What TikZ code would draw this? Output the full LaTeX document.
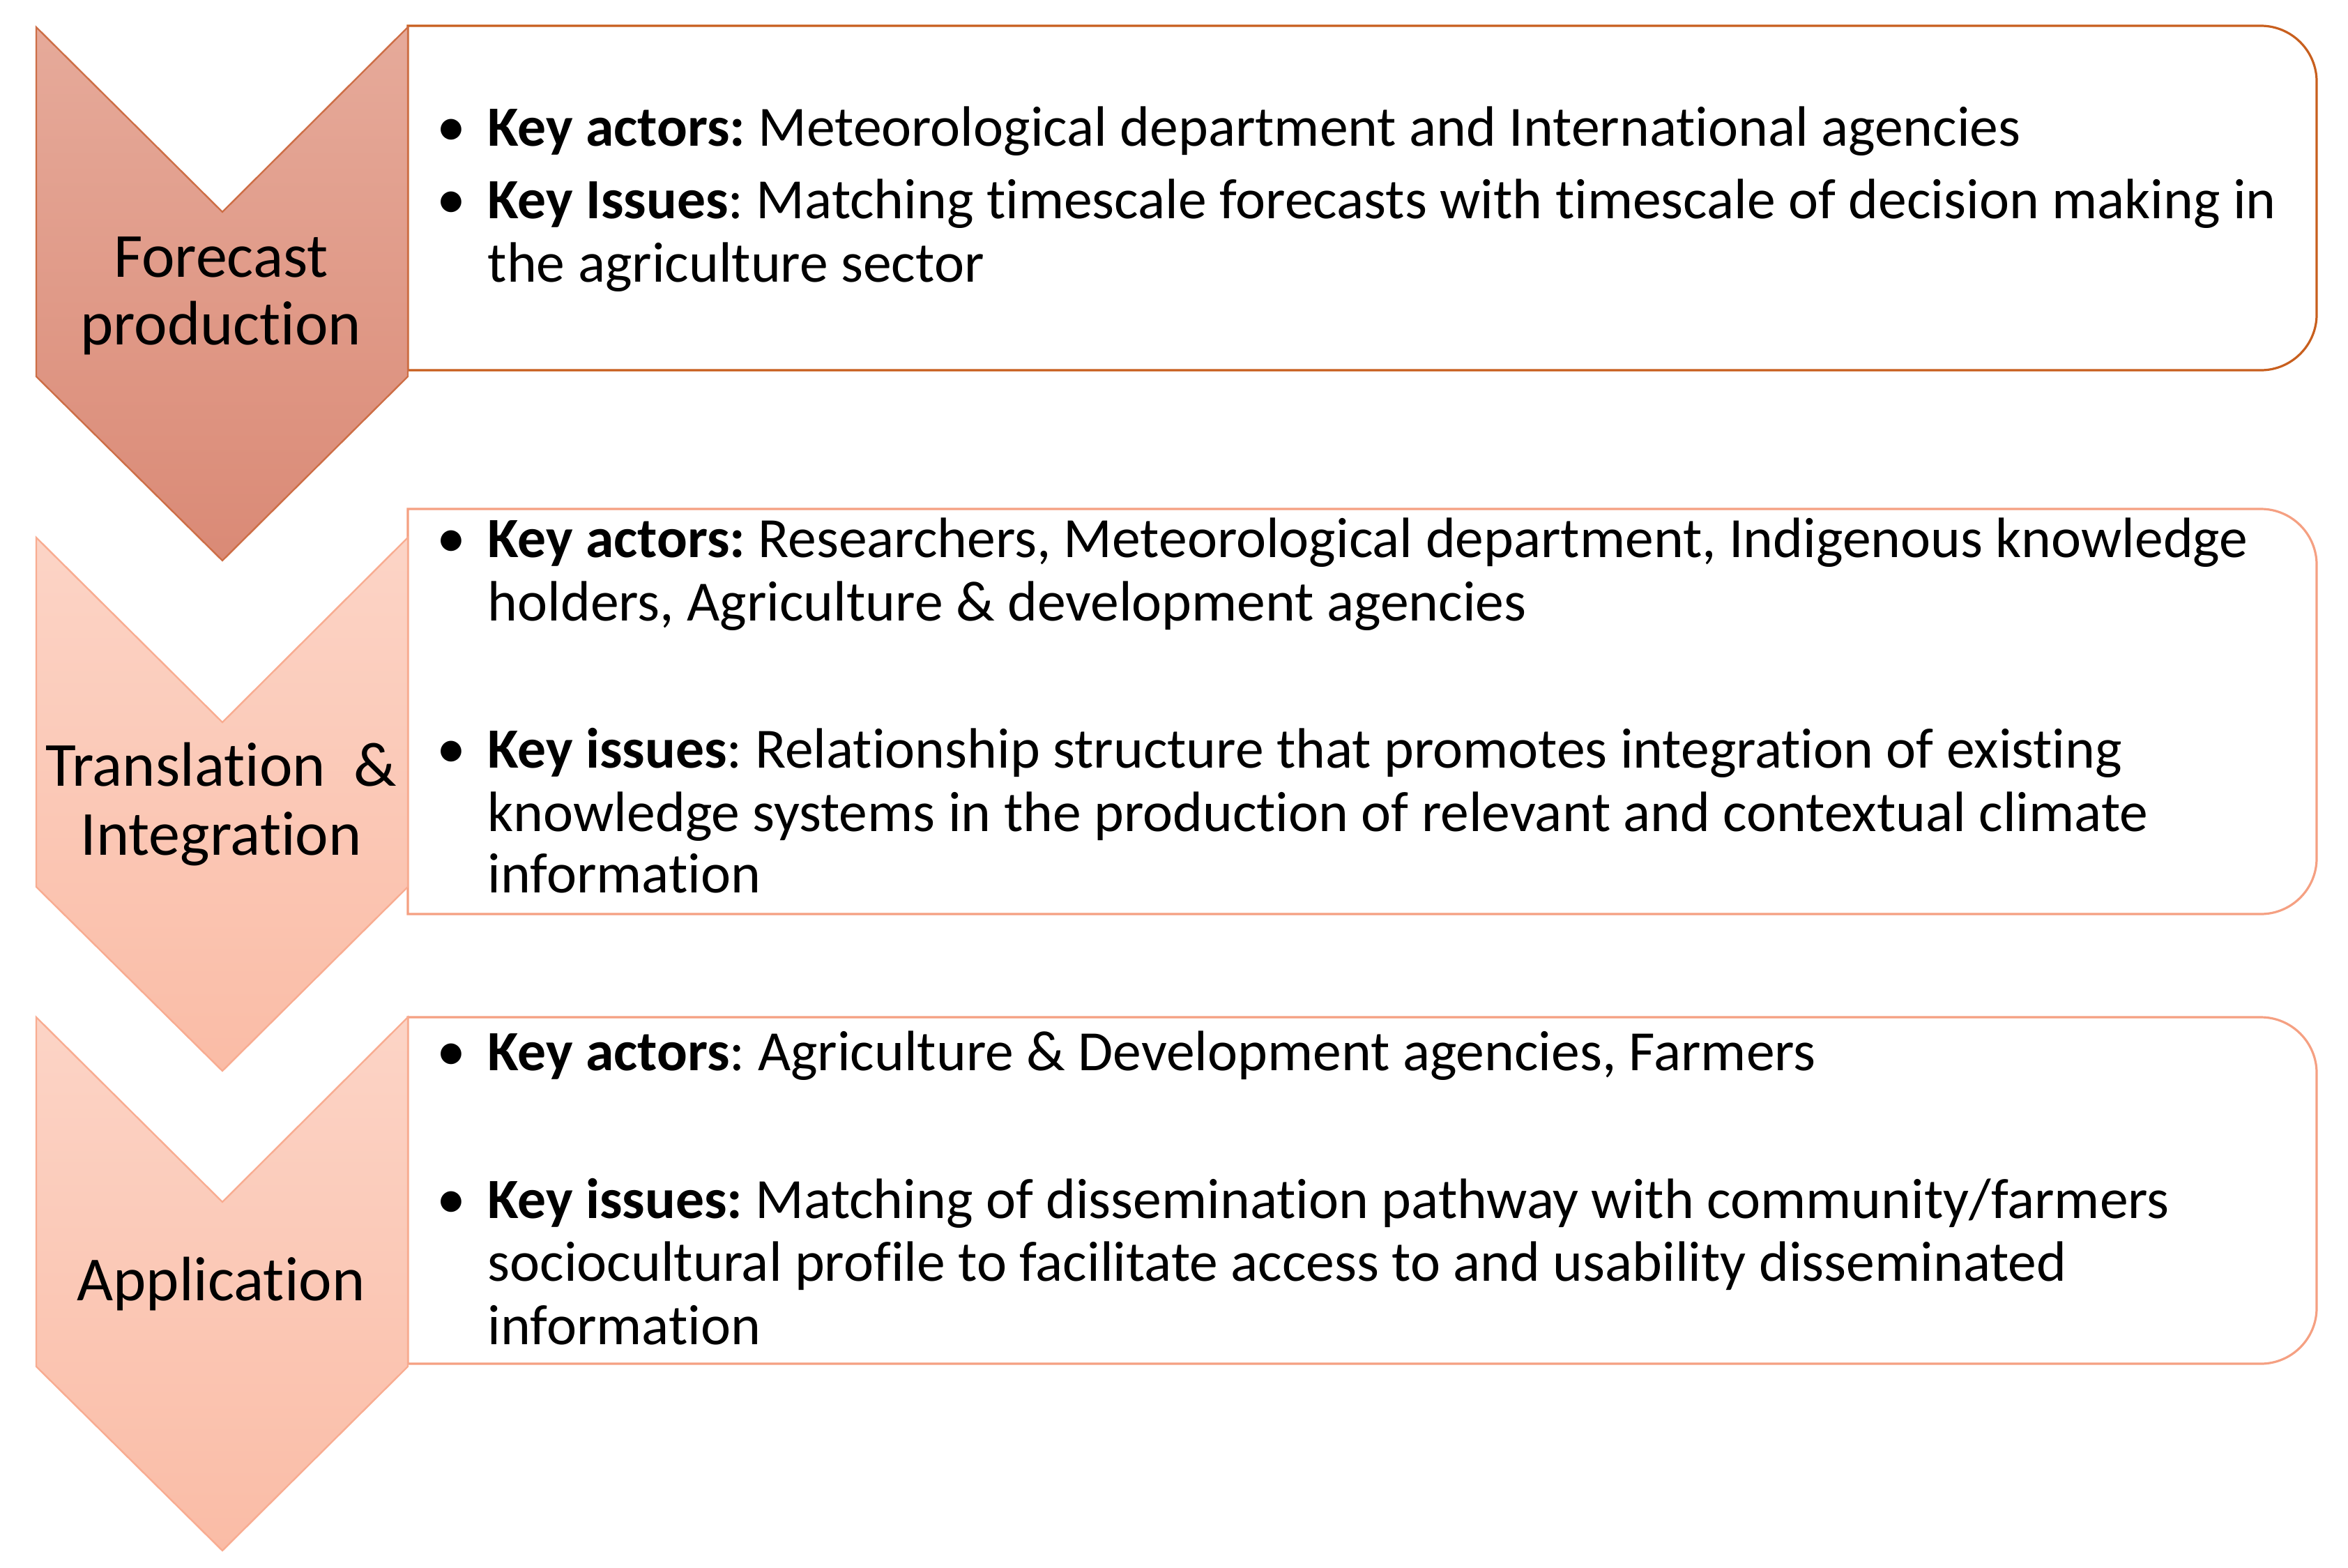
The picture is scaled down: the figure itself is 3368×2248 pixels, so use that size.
\documentclass[tikz,border=0pt]{standalone}
\usepackage{fontspec}
\setmainfont{Carlito}[Ligatures=NoCommon]
\frenchspacing
\definecolor{chAtop}{RGB}{230,170,154}
\definecolor{chAbot}{RGB}{218,138,118}
\definecolor{chAline}{RGB}{205,110,70}
\definecolor{boxAline}{RGB}{200,95,30}
\definecolor{chBtop}{RGB}{252,212,198}
\definecolor{chBbot}{RGB}{250,188,166}
\definecolor{chBline}{RGB}{248,172,145}
\definecolor{boxBline}{RGB}{245,160,130}
\tikzset{
  body/.style={anchor=base west, inner sep=0pt, font=\fontsize{20.4}{24}\selectfont},
  bul/.style={anchor=base west, inner sep=0pt, font=\fontsize{21}{24}\selectfont},
  chlabel/.style={anchor=base, inner sep=0pt, font=\fontsize{22.5}{27}\selectfont},
}
\begin{document}
\begin{tikzpicture}[x=0.25pt,y=-0.25pt]
\useasboundingbox (0,0) rectangle (3368,2248);
% ---------- boxes ----------
\draw[boxAline, line width=0.8pt, fill=white] (585,37) -- (3243,37) .. controls (3287,37) and (3323,73) .. (3323,117) -- (3323,451) .. controls (3323,495) and (3287,531) .. (3243,531) -- (585,531) -- cycle;
\draw[boxBline, line width=0.8pt, fill=white] (585,730) -- (3243,730) .. controls (3287,730) and (3323,766) .. (3323,810) -- (3323,1231) .. controls (3323,1275) and (3287,1311) .. (3243,1311) -- (585,1311) -- cycle;
\draw[boxBline, line width=0.8pt, fill=white] (585,1459) -- (3243,1459) .. controls (3287,1459) and (3323,1495) .. (3323,1539) -- (3323,1876) .. controls (3323,1920) and (3287,1956) .. (3243,1956) -- (585,1956) -- cycle;
% ---------- chevrons ----------
\draw[chAline, line width=0.6pt, top color=chAtop, bottom color=chAbot]
  (52,39) -- (319,304) -- (585,39) -- (585,540) -- (319,804) -- (52,540) -- cycle;
\draw[chBline, line width=0.6pt, top color=chBtop, bottom color=chBbot]
  (52,771) -- (319,1036) -- (585,771) -- (585,1272) -- (319,1536) -- (52,1272) -- cycle;
\draw[chBline, line width=0.6pt, top color=chBtop, bottom color=chBbot]
  (52,1459) -- (319,1724) -- (585,1459) -- (585,1960) -- (319,2224) -- (52,1960) -- cycle;
% ---------- chevron labels ----------
\node[chlabel] (fa) at (317,397) {Forecast};
\node[chlabel] (fb) at (317,494) {production};
\node[chlabel] (ta) at (317,1127) {Translation\ \ \&};
\node[chlabel] (tb) at (317,1226) {Integration};
\node[chlabel] (ap) at (317,1865) {Application};
% ---------- box 1 ----------
\node[bul] (d11) at (626,209) {•};
\node[body] (t11) at (699,209) {\textbf{Key actors:} Meteorological department and International agencies};
\node[bul] (d12) at (626,313) {•};
\node[body] (t12) at (699,313) {\textbf{Key Issues}: Matching timescale forecasts with timescale of decision making in};
\node[body] (t13) at (699,404) {the agriculture sector};
% ---------- box 2 ----------
\node[bul] (d21) at (626,799) {•};
\node[body] (t21) at (699,799) {\textbf{Key actors:} Researchers, Meteorological department, Indigenous knowledge};
\node[body] (t22) at (699,890) {holders, Agriculture \& development agencies};
\node[bul] (d22) at (626,1101) {•};
\node[body] (t23) at (699,1101) {\textbf{Key issues}: Relationship structure that promotes integration of existing};
\node[body] (t24) at (699,1192) {knowledge systems in the production of relevant and contextual climate};
\node[body] (t25) at (699,1280) {information};
% ---------- box 3 ----------
\node[bul] (d31) at (626,1535) {•};
\node[body] (t31) at (699,1535) {\textbf{Key actors}: Agriculture \& Development agencies, Farmers};
\node[bul] (d32) at (626,1747) {•};
\node[body] (t32) at (699,1747) {\textbf{Key issues:} Matching of dissemination pathway with community/farmers};
\node[body] (t33) at (699,1837) {sociocultural profile to facilitate access to and usability disseminated};
\node[body] (t34) at (699,1928) {information};
\end{tikzpicture}
\end{document}
